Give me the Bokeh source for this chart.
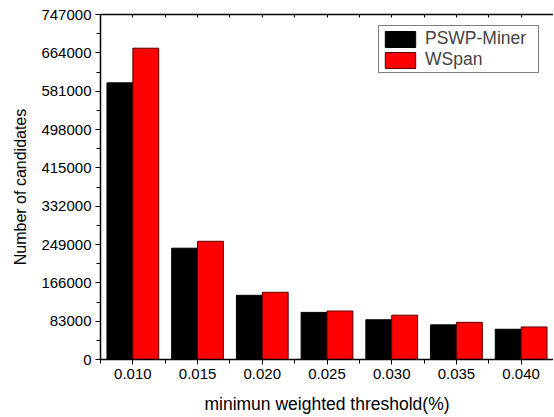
from bokeh.plotting import figure
from bokeh.models import ColumnDataSource, FixedTicker, LinearAxis, Range1d, Legend, LegendItem, NumeralTickFormatter
from bokeh.embed import file_html
from bokeh.resources import INLINE

categories = ["0.010", "0.015", "0.020", "0.025", "0.030", "0.035", "0.040"]
pswp_miner = [599000, 241000, 139000, 102000, 86000, 75000, 65500]
wspan = [674000, 256000, 145500, 105000, 96000, 80500, 70500]
y_ticks = [0, 83000, 166000, 249000, 332000, 415000, 498000, 581000, 664000, 747000]

xs = list(range(len(categories)))
src1 = ColumnDataSource(dict(x=[v - 0.2 for v in xs], a=pswp_miner))
src2 = ColumnDataSource(dict(x=[v + 0.2 for v in xs], b=wspan))

FONT = "Liberation Sans"
p = figure(width=553, height=416, output_backend="svg", toolbar_location=None,
           x_range=Range1d(-0.5, len(categories) - 0.5), y_range=Range1d(0, y_ticks[-1]),
           min_border_left=100, min_border_right=0, min_border_top=14, min_border_bottom=0)
p.outline_line_color = None
p.xgrid.visible = False
p.ygrid.visible = False
p.background_fill_color = "white"
p.border_fill_color = "white"

r1 = p.vbar(x="x", top="a", bottom=0, width=0.4, source=src1, fill_color="black",
            line_color="black", line_width=1)
r2 = p.vbar(x="x", top="b", bottom=0, width=0.4, source=src2, fill_color="#FF0000",
            line_color="#5a0000", line_width=1)

minor_x = [v + 0.5 for v in range(-1, len(categories))]
p.xaxis.ticker = FixedTicker(ticks=xs, minor_ticks=minor_x)
p.xaxis.major_label_overrides = {i: c for i, c in enumerate(categories)}
p.xaxis.axis_label = "minimun weighted threshold(%)"
minor_y = [v + 41500 for v in y_ticks[:-1]]
p.yaxis.ticker = FixedTicker(ticks=y_ticks, minor_ticks=minor_y)
p.yaxis.formatter = NumeralTickFormatter(format="0")
p.yaxis.axis_label = "Number of candidates"

for ax in (p.xaxis[0], p.yaxis[0]):
    ax.axis_line_color = "black"
    ax.axis_line_width = 1.5
    ax.major_tick_line_color = "black"
    ax.minor_tick_line_color = "black"
    ax.major_tick_in = 0
    ax.major_tick_out = 5
    ax.minor_tick_in = 0
    ax.minor_tick_out = 4
    ax.major_label_text_font = FONT
    ax.major_label_text_font_size = "15px"
    ax.major_label_text_color = "black"
    ax.axis_label_text_font = FONT
    ax.axis_label_text_font_style = "normal"
    ax.axis_label_text_color = "black"
p.xaxis.axis_label_text_font_size = "17.5px"
p.yaxis.axis_label_text_font_size = "16px"
p.yaxis.major_label_standoff = 4
p.yaxis.axis_label_standoff = 9
p.xaxis.major_label_standoff = 4
p.xaxis.axis_label_standoff = 12

top = LinearAxis(ticker=FixedTicker(ticks=[], minor_ticks=xs + minor_x),
                 axis_line_color="black", axis_line_width=1.5, major_tick_in=0, major_tick_out=0,
                 minor_tick_in=3, minor_tick_out=0, major_tick_line_color="black",
                 minor_tick_line_color="black")
p.add_layout(top, "above")

legend = Legend(items=[LegendItem(label="PSWP-Miner", renderers=[r1]),
                       LegendItem(label="WSpan", renderers=[r2])],
                location=(278, 286))
legend.label_text_font = FONT
legend.label_text_font_size = "17.5px"
legend.glyph_width = 38
legend.glyph_height = 20
legend.label_height = 20
legend.label_width = 111
legend.spacing = 0
legend.padding = 2
legend.margin = 0
legend.label_standoff = 6
legend.border_line_color = "black"
legend.border_line_width = 1
legend.background_fill_alpha = 1
p.add_layout(legend)

open("out.html", "w").write(file_html(p, INLINE))
